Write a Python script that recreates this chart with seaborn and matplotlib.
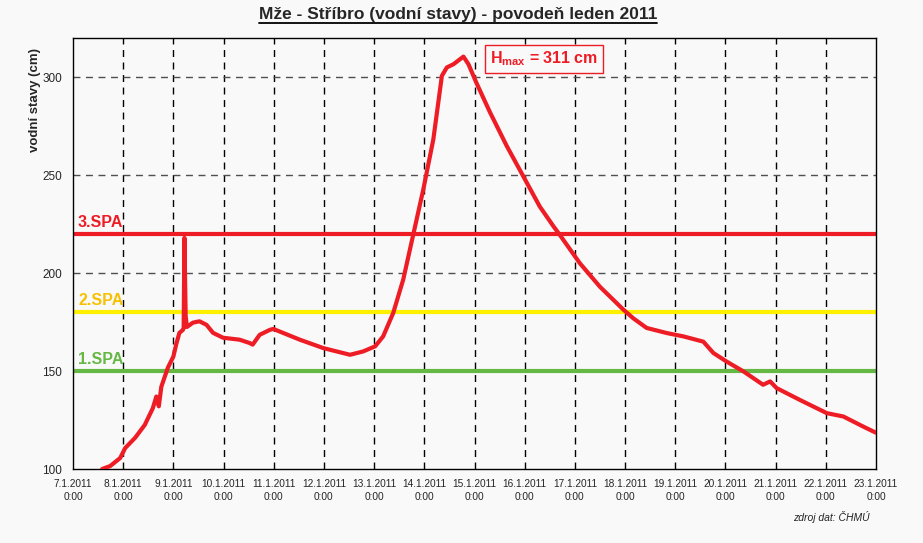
import matplotlib
matplotlib.use("Agg")
import matplotlib.pyplot as plt
import seaborn as sns
import pandas as pd
from matplotlib.lines import Line2D
from matplotlib.ticker import MultipleLocator, FixedLocator

# ---- data ----
days = [7.58, 7.74, 7.94, 8.04, 8.24, 8.43, 8.59, 8.66, 8.71, 8.76, 8.89, 9.0, 9.06, 9.12,
        9.19, 9.205, 9.22, 9.245, 9.27, 9.39, 9.52, 9.66, 9.79, 9.99, 10.32, 10.52, 10.58,
        10.72, 10.92, 10.99, 11.52, 11.99, 12.52, 12.78, 13.02, 13.18, 13.38, 13.58, 13.78,
        13.98, 14.18, 14.35, 14.45, 14.58, 14.78, 14.88, 15.04, 15.31, 15.64, 15.97, 16.30,
        16.57, 16.70, 17.10, 17.50, 17.96, 18.16, 18.43, 18.83, 19.16, 19.56, 19.76, 20.02,
        20.36, 20.75, 20.89, 21.02, 21.48, 22.02, 22.35, 22.75, 23.0]
levels = [100, 101.5, 105.6, 110.7, 116, 122.5, 131, 137, 132, 142, 151.7, 157.4, 164, 169.5,
          171, 172, 218, 178, 172.5, 174.7, 175.4, 173.6, 169.5, 167, 166, 164.3, 163.5,
          168.5, 171, 171.5, 166, 161.7, 158.3, 160, 162.6, 167.7, 179.6, 196.7, 219.7,
          242.7, 268.3, 300.7, 305, 306.6, 310.5, 306.6, 297, 282, 265, 249.5, 234,
          224, 219.5, 205, 193, 181.5, 177, 172, 169.4, 167.7, 165, 159.2, 154.9,
          149.8, 143, 144.7, 141.3, 135.3, 128.5, 126.8, 121.6, 118.5]

spa_names = ["1.SPA", "2.SPA", "3.SPA"]
spa_levels = [150, 180, 220]
spa_line_colors = ["#66b844", "#fff000", "#ee1c25"]
spa_text_colors = ["#66b844", "#f7c000", "#ee1c25"]

tick_days = list(range(7, 24))
tick_labels = [f"{d}.1.2011\n0:00" for d in tick_days]

title = "Mže - Stříbro (vodní stavy) - povodeň leden 2011"
hmax_text = r"H$_{\mathregular{max}}$ = 311 cm"
ylabel = "vodní stavy (cm)"
source = "zdroj dat: ČHMÚ"

df = pd.DataFrame({"day": days, "level": levels})

# ---- style ----
sns.set_style("white")
FONT = ["Liberation Sans", "DejaVu Sans"]
plt.rcParams["font.family"] = FONT
plt.rcParams["mathtext.fontset"] = "custom"
plt.rcParams["mathtext.rm"] = "Liberation Sans"
plt.rcParams["mathtext.bf"] = "Liberation Sans:bold"

bg = "#f9f9f9"
fig = plt.figure(figsize=(9.23, 5.43), dpi=100, facecolor=bg)
W, H = 923, 543
ax = fig.add_axes([73 / W, (H - 469) / H, (876 - 73) / W, (469 - 38) / H])
ax.set_facecolor(bg)

# grid
for d in tick_days[1:-1]:
    ax.axvline(d, color="black", lw=1, ls=(0, (5, 4)), zorder=1)
for v in [200, 250, 300]:
    ax.axhline(v, color="#505050", lw=1, ls=(0, (5, 4)), zorder=1)

# SPA lines
for name, lev, lc, tc in zip(spa_names, spa_levels, spa_line_colors, spa_text_colors):
    ax.axhline(lev, color=lc, lw=3, zorder=2)
    ax.text(7.1, lev + 2.0, name, color=tc, fontsize=11.5, fontweight="bold",
            va="bottom", ha="left", zorder=3)

sns.lineplot(data=df, x="day", y="level", color="#ee1c25", lw=3, ax=ax, zorder=4, sort=False)

ax.set_xlim(7, 23)
ax.set_ylim(100, 320)
ax.xaxis.set_major_locator(FixedLocator(tick_days))
ax.set_xticklabels(tick_labels, linespacing=1.45)
ax.xaxis.set_minor_locator(MultipleLocator(0.25))
ax.yaxis.set_major_locator(MultipleLocator(50))
ax.yaxis.set_minor_locator(MultipleLocator(10))
ax.tick_params(axis="both", which="major", direction="inout", length=8, width=1,
               color="black", labelsize=8.5, pad=4)
ax.tick_params(axis="both", which="minor", direction="out", length=4, width=1, color="black")
ax.tick_params(axis="x", which="major", pad=3, labelsize=7.3)
for s in ax.spines.values():
    s.set_color("black")
    s.set_linewidth(1)
ax.set_xlabel("")
ax.set_ylabel("")

# Hmax box
ax.text(16.38, 309.3, hmax_text, color="#ee1c25", fontsize=11.5, fontweight="bold",
        ha="center", va="center", zorder=6,
        bbox=dict(boxstyle="square,pad=0.3", fc=bg, ec="#ee1c25", lw=1))

# y label
fig.text(35 / W, 1 - 100 / H, ylabel, rotation=90, ha="center", va="center",
         fontsize=9.5, fontweight="bold")

# title with underline
t = fig.text(458 / W, 1 - 14 / H, title, ha="center", va="center", fontsize=12.5,
             fontweight="bold")
fig.canvas.draw()
bb = t.get_window_extent(renderer=fig.canvas.get_renderer())
uy = (bb.y0 - 1) / H
fig.add_artist(Line2D([bb.x0 / W, bb.x1 / W], [uy, uy], color="black", lw=1.3,
                      transform=fig.transFigure))

# source
fig.text(870 / W, 1 - 517 / H, source, ha="right", va="center", fontsize=7.5,
         style="italic")

fig.savefig("out.png", dpi=100, facecolor=bg)
